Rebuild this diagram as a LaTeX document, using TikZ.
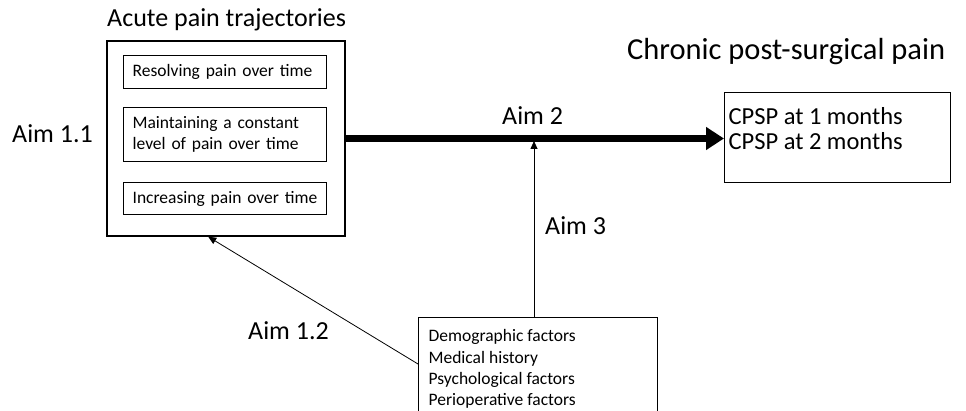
\documentclass[tikz,border=0pt]{standalone}
\usepackage{fontspec}
\setmainfont{Carlito}
\usetikzlibrary{arrows.meta,calc}
\tikzset{
  outerbox/.style={draw, line width=1.5pt, minimum width=238pt, minimum height=195pt, inner sep=0pt},
  trajbox/.style={draw, line width=1.2pt, anchor=north west, minimum width=203pt, text width=185pt, align=left, inner sep=0pt, font=\fontsize{17.5}{21}\selectfont},
  headtext/.style={font=\fontsize{26}{30}\selectfont, inner sep=0pt},
  aimtext/.style={font=\fontsize{26}{30}\selectfont, inner sep=0pt, anchor=base west},
  thin arrow/.style={line width=0.8pt, -{Triangle[length=8pt,width=7pt]}},
}
\begin{document}
\begin{tikzpicture}[x=1pt, y=-1pt]
    \useasboundingbox (0,0) rectangle (966,411);
    \clip (0,0) rectangle (966,411);
    % acute pain trajectories
    \node[outerbox] (acute) at (226,138.5) {};
    \node[headtext, anchor=base west] (acutehead) at (107,27) {Acute pain trajectories};
    \node[trajbox, minimum height=33pt] (resolving) at (123,55) {Resolving pain over time};
    \node[trajbox, minimum height=54pt] (constant) at (123,107) {Maintaining a constant\\level of pain over time};
    \node[trajbox, minimum height=32pt] (increasing) at (123,182) {Increasing pain over time};
    % chronic post-surgical pain
    \node[headtext, font=\fontsize{30.5}{34}\selectfont, anchor=base west] (cpsphead) at (627,60) {Chronic post-surgical pain};
    \node[draw, line width=1.2pt, anchor=north west, inner sep=0pt] (cpsp) at (724,92)
        {\parbox[t][90pt][t]{226pt}{\hspace*{4pt}\parbox[t]{215pt}{\vspace*{15pt}\fontsize{24.5}{25}\selectfont CPSP at 1 months\\CPSP at 2 months}}};
    % factors
    \node[draw, line width=1.2pt, anchor=north west, inner sep=0pt] (factors) at (418,317)
        {\parbox[t][100pt][t]{239pt}{\hspace*{10pt}\parbox[t]{225pt}{\vspace*{12pt}\fontsize{17.5}{21.3}\selectfont Demographic factors\\Medical history\\Psychological factors\\Perioperative factors}}};
    \coordinate (aimtwo) at (534,141);
    \coordinate (acutefoot) at ($(acute.south west)+(102,0)$);
    % arrows
    \draw[line width=7pt, -{Triangle[length=18pt,width=22pt]}] (acute.east) -- (cpsp.west |- acute.east);
    \draw[thin arrow] (factors.north -| aimtwo) -- (aimtwo);
    \draw[thin arrow] ($(factors.north west)+(0,47)$) -- (acutefoot);
    % labels
    \node[aimtext] (aimoneone) at (12,143) {Aim 1.1};
    \node[aimtext] (aimtwolabel) at (502,125) {Aim 2};
    \node[aimtext] (aimthree) at (545,235) {Aim 3};
    \node[aimtext] (aimonetwo) at (248,340) {Aim 1.2};
\end{tikzpicture}
\end{document}
